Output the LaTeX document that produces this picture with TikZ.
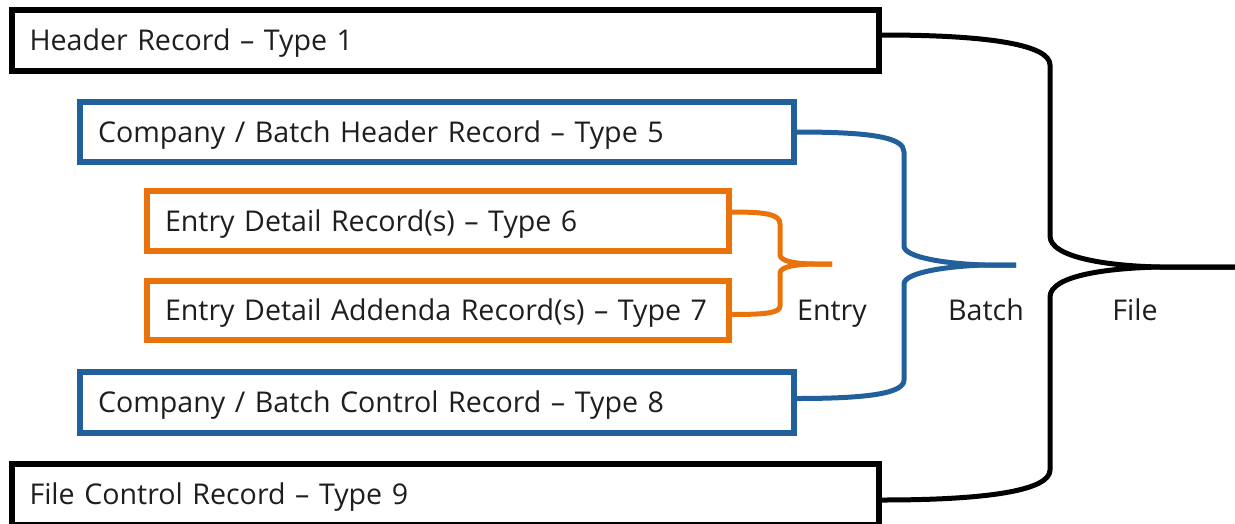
\documentclass[tikz,border=0pt]{standalone}
\usepackage{fontspec}
\setmainfont{Open Sans}
\usetikzlibrary{calc}
\definecolor{bblue}{RGB}{34,96,156}
\definecolor{borange}{RGB}{233,115,10}
\definecolor{txt}{RGB}{30,30,30}
\begin{document}
\begin{tikzpicture}[x=1pt,y=-1pt,
  rec/.style={draw=black, line width=6pt, rectangle, inner xsep=18pt, inner ysep=0pt,
    minimum height=61pt, align=left, font=\fontsize{28.6}{31}\selectfont,
    text height=20.2pt, text depth=0pt, text=txt},
  bluerec/.style={rec, draw=bblue},
  orangerec/.style={rec, draw=borange},
  brace/.style={line width=5pt, line join=round},
  lbl/.style={font=\fontsize{28.6}{31}\selectfont, text=txt, inner sep=0pt, anchor=base}]
\useasboundingbox (0,0) rectangle (1235,523);

% boxes
\node[rec, text width=831.5pt] (h1) at (445.25,40.5) {Header Record – Type 1};
\node[bluerec, text width=678pt, minimum height=60pt] (bh) at (437,132) {Company / Batch Header Record – Type 5};
\node[orangerec, text width=545.5pt, minimum height=60pt] (ed) at (437.75,221) {Entry Detail Record(s) – Type 6};
\node[orangerec, text width=545.5pt, minimum height=59.5pt] (ea) at (437.75,310.25) {Entry Detail Addenda Record(s) – Type 7};
\node[bluerec, text width=678pt] (bc) at (437,402.5) {Company / Batch Control Record – Type 8};
\node[rec, text width=831.5pt] (fc) at (445.25,494.5) {File Control Record – Type 9};

% brace tips
\coordinate (etip) at (832,264);
\coordinate (btip) at (1016,265);
\coordinate (ftip) at (1235,267);

% entry brace
\draw[brace, draw=borange] ($(ed.east)+(0,-9)$) .. controls (765,212) and (780,214) .. (780,224)
  -- (780,255) .. controls (780,262) and (800,264) .. (815,264) -- (etip);
\draw[brace, draw=borange] (etip) -- (815,264) .. controls (800,264) and (780,266) .. (780,273)
  -- (780,306) .. controls (780,313) and (765,314.5) .. ($(ea.east)+(0,4.25)$);

% batch brace
\draw[brace, draw=bblue] (bh.east) .. controls (875,132) and (904,138) .. (904,152)
  -- (904,246) .. controls (904,258) and (950,264) .. (985,265) -- (btip);
\draw[brace, draw=bblue] (btip) -- (985,265) .. controls (950,266) and (904,272) .. (904,284)
  -- (904,380) .. controls (904,393) and (870,398.5) .. ($(bc.east)+(0,-4)$);

% file brace
\draw[brace, draw=black] ($(h1.east)+(0,-5.5)$) .. controls (990,35) and (1050,45) .. (1050,65)
  -- (1050,236) .. controls (1050,258) and (1110,266) .. (1160,267) -- (ftip);
\draw[brace, draw=black] (ftip) -- (1160,267) .. controls (1110,268) and (1050,275) .. (1050,297)
  -- (1050,470) .. controls (1050,490) and (990,500) .. ($(fc.east)+(0,5.5)$);

% labels
\node[lbl] (entry) at (832,320) {Entry};
\node[lbl] (batch) at (986,320) {Batch};
\node[lbl] (file) at (1135,320) {File};
\end{tikzpicture}
\end{document}
